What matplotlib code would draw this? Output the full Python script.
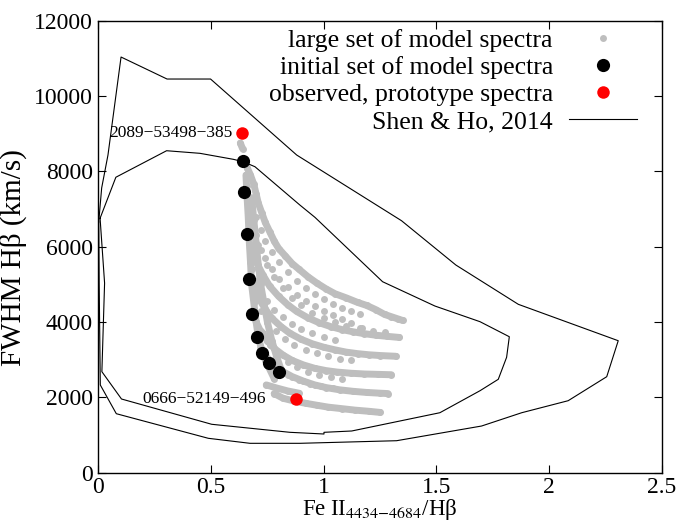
import matplotlib
matplotlib.use("Agg")
import matplotlib.pyplot as plt
from matplotlib.lines import Line2D

plt.rcParams['font.family'] = ['Liberation Serif', 'DejaVu Serif']
plt.rcParams['mathtext.fontset'] = 'stix'

# Shen & Ho (2014) contours
outer_x = [0.002, 0.015, 0.043, 0.101, 0.305, 0.498, 0.880, 1.345, 1.586, 1.863, 2.306,
           2.255, 2.084, 1.878, 1.700, 1.323, 0.894, 0.673, 0.488, 0.080, 0.009, 0.004, 0.002]
outer_y = [6654, 7556, 8432, 11033, 10449, 10449, 8432, 6688, 5512, 4469, 3503,
           2548, 1911, 1592, 1239, 849, 780, 780, 913, 1566, 2328, 5000, 6654]
inner_x = [0.008, 0.078, 0.303, 0.451, 0.599, 0.643, 0.695, 0.894, 0.961, 1.261, 1.493,
           1.693, 1.823, 1.811, 1.774, 1.693, 1.515, 1.124, 1.001, 1.001, 0.850, 0.503,
           0.103, 0.016, 0.028, 0.008]
inner_y = [6754, 7842, 8546, 8477, 8318, 8254, 8121, 7105, 6778, 5069, 4424,
           4008, 3609, 3063, 2479, 2176, 1592, 1107, 1072, 1027, 1072, 1285,
           1956, 2681, 5033, 6754]

# large set of model spectra: bands (solid = dense, dotted = sparse)
solid_bands = [
    ([0.63, 0.64], [8750, 8600]),
    ([0.655, 0.66, 0.665, 0.67, 0.675, 0.68, 0.69, 0.70, 0.71, 0.725, 0.74, 0.76, 0.78],
     [7900, 7300, 6800, 6100, 5600, 5000, 4500, 4000, 3600, 3250, 3000, 2750, 2500]),
    ([0.68, 0.69, 0.70, 0.71, 0.72, 0.735, 0.75, 0.77, 0.79, 0.81],
     [7300, 6700, 6100, 5500, 5000, 4500, 4000, 3500, 3100, 2750]),
    ([0.66, 0.675, 0.69, 0.70, 0.71, 0.725, 0.74, 0.76, 0.78, 0.80, 0.83, 0.86, 0.89, 0.93,
      0.97, 1.01, 1.05, 1.10, 1.15, 1.19, 1.23, 1.27, 1.30, 1.33, 1.35],
     [8100, 7900, 7650, 7400, 7150, 6900, 6650, 6400, 6150, 5950, 5750, 5550, 5400, 5200,
      5030, 4880, 4750, 4640, 4520, 4440, 4330, 4200, 4140, 4080, 4040]),
    ([0.68, 0.70, 0.73, 0.76, 0.80, 0.84, 0.88, 0.93, 0.98, 1.03, 1.08, 1.13, 1.18, 1.23,
      1.28, 1.335],
     [6000, 5600, 5250, 4950, 4680, 4460, 4280, 4110, 3980, 3880, 3800, 3740, 3690, 3650,
      3620, 3590]),
    ([0.69, 0.71, 0.74, 0.77, 0.81, 0.85, 0.90, 0.95, 1.00, 1.05, 1.10, 1.15, 1.20, 1.25, 1.32],
     [5000, 4650, 4350, 4100, 3880, 3700, 3540, 3420, 3330, 3260, 3200, 3160, 3130, 3110, 3090]),
    ([0.70, 0.72, 0.75, 0.78, 0.82, 0.86, 0.91, 0.96, 1.01, 1.06, 1.12, 1.18, 1.24, 1.30],
     [4000, 3750, 3500, 3300, 3120, 2980, 2860, 2770, 2710, 2670, 2640, 2620, 2610, 2600]),
    ([0.72, 0.75, 0.78, 0.82, 0.86, 0.91, 0.96, 1.01, 1.07, 1.13, 1.19, 1.25, 1.285],
     [3300, 3050, 2850, 2680, 2550, 2430, 2330, 2260, 2200, 2160, 2130, 2110, 2100]),
    ([0.745, 0.79, 0.84, 0.89],
     [2330, 2250, 2170, 2110]),
    ([0.78, 0.82, 0.87, 0.92, 0.97, 1.02, 1.08, 1.14, 1.20, 1.25],
     [2100, 1975, 1900, 1842, 1790, 1740, 1700, 1660, 1630, 1600]),
]
dotted_bands = [
    ([0.66, 0.68, 0.70, 0.72, 0.74, 0.77, 0.80, 0.84, 0.88, 0.92, 0.96, 1.00, 1.04, 1.08,
      1.12, 1.16],
     [7600, 7200, 6800, 6450, 6150, 5850, 5580, 5330, 5100, 4900, 4740, 4600, 4480, 4380,
      4300, 4200]),
    ([0.67, 0.69, 0.71, 0.74, 0.77, 0.80, 0.84, 0.88, 0.92, 0.96, 1.00, 1.04, 1.08, 1.12, 1.17],
     [6800, 6400, 6050, 5700, 5400, 5150, 4920, 4720, 4560, 4420, 4300, 4180, 4080, 3980, 3850]),
    ([0.68, 0.70, 0.72, 0.75, 0.78, 0.82, 0.86, 0.90, 0.95, 1.00, 1.05],
     [5400, 5100, 4800, 4550, 4330, 4130, 3960, 3820, 3700, 3600, 3530]),
    ([0.70, 0.72, 0.75, 0.78, 0.82, 0.86, 0.90, 0.95, 1.00, 1.05, 1.10, 1.16, 1.22, 1.27],
     [6300, 5900, 5500, 5200, 4900, 4650, 4450, 4250, 4100, 3990, 3900, 3830, 3770, 3730]),
    ([0.70, 0.72, 0.75, 0.79, 0.83, 0.87, 0.92, 0.97, 1.02, 1.07, 1.12],
     [4600, 4300, 4000, 3750, 3550, 3400, 3270, 3170, 3090, 3030, 2980]),
    ([0.73, 0.76, 0.80, 0.84, 0.88, 0.93, 0.98, 1.03, 1.08],
     [3700, 3400, 3150, 2950, 2800, 2680, 2590, 2530, 2490]),
    ([0.76, 0.80, 0.84, 0.89, 0.94, 0.99, 1.04],
     [3000, 2750, 2580, 2450, 2360, 2290, 2240]),
]

# initial set of model spectra
init_x = [0.640, 0.646, 0.661, 0.670, 0.683, 0.702, 0.727, 0.758, 0.803]
init_y = [8280, 7440, 6335, 5133, 4204, 3593, 3185, 2903, 2665]

# observed prototype spectra
obs_x = [0.636, 0.875]
obs_y = [9024, 1956]
obs_names = ['2089\u221253498\u2212385', '0666\u221252149\u2212496']
obs_gap = [0.04, 0.13]

gray = '#bebebe'

fig = plt.figure(figsize=(6.96, 5.24), dpi=100)
ax = fig.add_axes([0.1412, 0.0979, 0.8099, 0.8628])

for bx, by in solid_bands:
    ax.plot(bx, by, '-', color=gray, lw=5, solid_capstyle='round', solid_joinstyle='round', zorder=1)
    ax.plot(bx, by, 'o', color=gray, ms=5, mew=0, zorder=1)
for bx, by in dotted_bands:
    ax.plot(bx, by, 'o', color=gray, ms=5, mew=0, zorder=1)

ax.plot(outer_x, outer_y, color='black', lw=0.8, zorder=2)
ax.plot(inner_x, inner_y, color='black', lw=0.8, zorder=2)

ax.plot(init_x, init_y, 'o', color='black', ms=9.5, mew=0, zorder=3)
ax.plot(obs_x, obs_y, 'o', color='red', ms=9, mew=0, zorder=3)
for x, y, name, gap in zip(obs_x, obs_y, obs_names, obs_gap):
    ax.text(x - gap, y, name, ha='right', va='center', fontsize=12.5)

ax.set_xlim(0, 2.5)
ax.set_ylim(0, 12000)
ax.set_xticks([0, 0.5, 1, 1.5, 2, 2.5])
ax.set_xticklabels(['0', '0.5', '1', '1.5', '2', '2.5'])
ax.set_yticks(range(0, 12001, 2000))
ax.tick_params(direction='in', top=True, right=True, length=6, width=0.8, labelsize=17, pad=4)
ax.tick_params(axis='x', pad=3)
for s in ax.spines.values():
    s.set_linewidth(1.0)

ax.set_xlabel('Fe II$_{4434{\u2212}4684}$/H\u03b2', fontsize=16.5, va='bottom')
ax.xaxis.set_label_coords(0.5, -0.108)
ax.set_ylabel('FWHM H\u03b2 (km/s)', fontsize=21)
ax.yaxis.set_label_coords(-0.127, 0.475)

handles = [
    Line2D([], [], ls='none', marker='o', color=gray, ms=5, mew=0),
    Line2D([], [], ls='none', marker='o', color='black', ms=9.5, mew=0),
    Line2D([], [], ls='none', marker='o', color='red', ms=9, mew=0),
    Line2D([], [], color='black', lw=0.8),
]
labels = ['large set of model spectra', 'initial set of model spectra',
          'observed, prototype spectra', 'Shen & Ho, 2014']
ax.legend(handles, labels, loc='upper right', bbox_to_anchor=(0.9556, 0.981), frameon=False,
          markerfirst=False, fontsize=18.5, handlelength=2.65, handletextpad=0.62,
          labelspacing=0.155, borderaxespad=0, borderpad=0)

fig.savefig('out.png', dpi=100)
